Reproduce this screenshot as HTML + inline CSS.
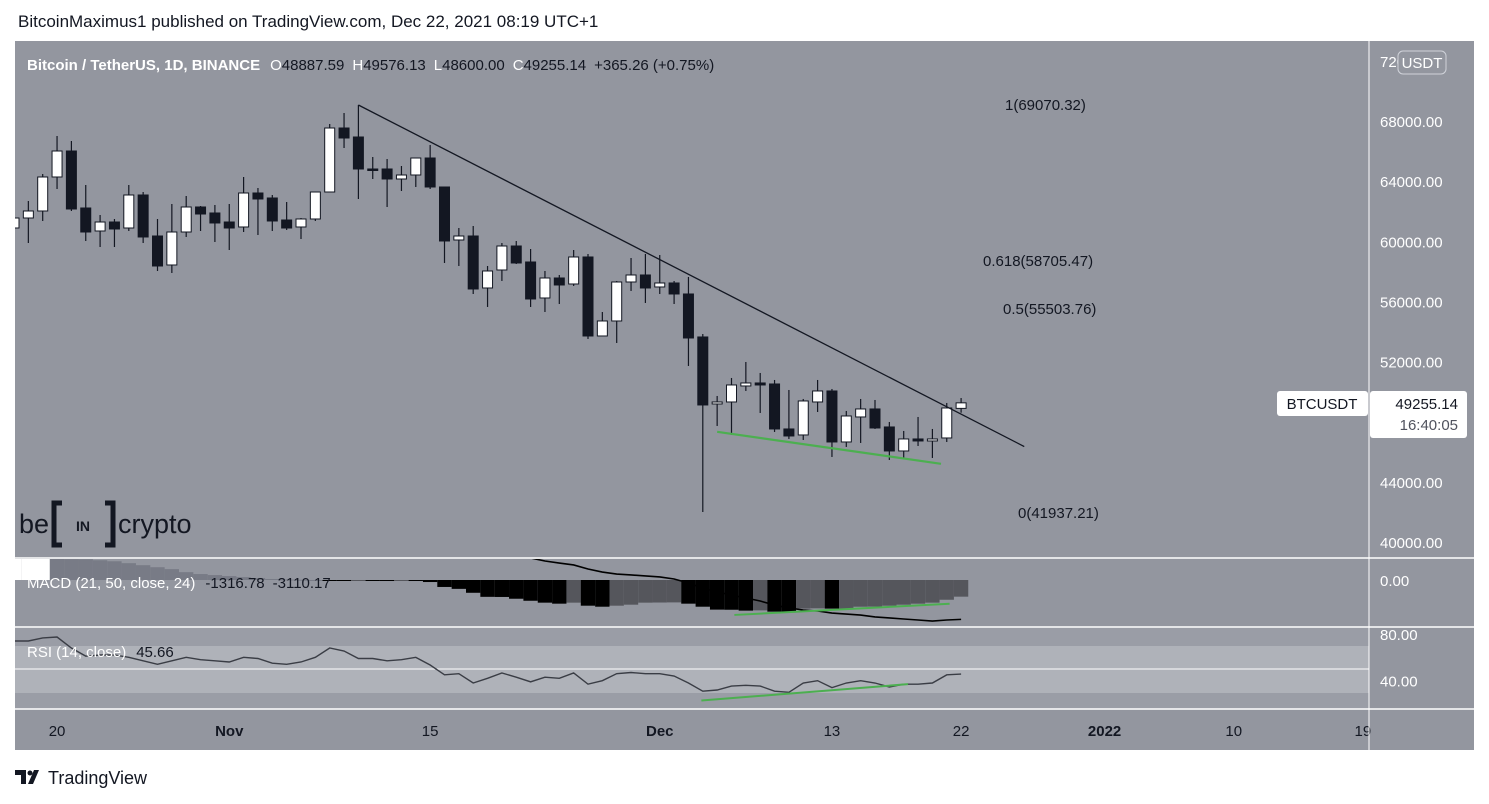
<!DOCTYPE html>
<html><head><meta charset="utf-8"><style>
html,body{margin:0;padding:0;background:#fff;width:1489px;height:804px;overflow:hidden}
svg{display:block;font-family:"Liberation Sans",sans-serif}
</style></head><body>
<svg id="chart" width="1489" height="804" xmlns="http://www.w3.org/2000/svg">
<defs>
<clipPath id="cMain"><rect x="15" y="41" width="1354" height="517"/></clipPath>
<clipPath id="cMacd"><rect x="15" y="559" width="1354" height="68"/></clipPath>
<clipPath id="cRsi"><rect x="15" y="628" width="1354" height="81"/></clipPath>
</defs>
<text x="18" y="27" font-size="17" fill="#131722">BitcoinMaximus1 published on TradingView.com, Dec 22, 2021 08:19 UTC+1</text>
<rect x="15" y="41" width="1459" height="709" fill="#93969f"/>
<rect x="15" y="628" width="1354" height="81" fill="#9a9da6"/>
<rect x="15" y="646" width="1354" height="47" fill="#afb2b9"/>
<line x1="15" y1="669" x2="1369" y2="669" stroke="#fff" stroke-width="1"/>
<g id="main" clip-path="url(#cMain)"></g>
<g id="macd" clip-path="url(#cMacd)"></g>
<g id="rsi" clip-path="url(#cRsi)"></g>
<g id="axes"></g>
<line x1="15" y1="558" x2="1474" y2="558" stroke="#fff" stroke-width="1.5"/>
<line x1="15" y1="627" x2="1474" y2="627" stroke="#fff" stroke-width="1.5"/>
<line x1="15" y1="709" x2="1474" y2="709" stroke="#fff" stroke-width="1.5"/>
<line x1="1369" y1="41" x2="1369" y2="750" stroke="#fff" stroke-width="1"/>
<text x="27" y="70" font-size="15"><tspan fill="#fff" font-weight="bold">Bitcoin / TetherUS, 1D, BINANCE</tspan><tspan fill="#fff" dx="10">O</tspan><tspan fill="#131722">48887.59</tspan><tspan fill="#fff" dx="8">H</tspan><tspan fill="#131722">49576.13</tspan><tspan fill="#fff" dx="8">L</tspan><tspan fill="#131722">48600.00</tspan><tspan fill="#fff" dx="8">C</tspan><tspan fill="#131722">49255.14</tspan><tspan fill="#131722" dx="8">+365.26 (+0.75%)</tspan></text>
<text x="27" y="588" font-size="15"><tspan fill="#fff">MACD (21, 50, close, 24)</tspan><tspan fill="#131722" dx="10">-1316.78</tspan><tspan fill="#131722" dx="8">-3110.17</tspan></text>
<text x="27" y="657" font-size="15"><tspan fill="#fff">RSI (14, close)</tspan><tspan fill="#131722" dx="10">45.66</tspan></text>
<g>
<text x="19" y="533" font-size="27" fill="#131722">be</text>
<path d="M62 503 h-8 v42 h8 M105 503 h8 v42 h-8" stroke="#131722" stroke-width="5" fill="none"/>
<text x="83" y="531" font-size="14" font-weight="bold" fill="#131722" text-anchor="middle">IN</text>
<text x="118" y="533" font-size="27" fill="#131722">crypto</text>
</g>
<rect x="1398" y="51" width="48" height="23" rx="5" fill="#93969f" stroke="#d0d3da"/>
<text x="1422" y="68" font-size="15" fill="#fff" text-anchor="middle">USDT</text>
<rect x="1277" y="391" width="91" height="25" rx="3" fill="#fff"/>
<text x="1322" y="409" font-size="15" fill="#131722" text-anchor="middle">BTCUSDT</text>
<rect x="1370" y="391" width="97" height="47" rx="3" fill="#fff"/>
<text x="1458" y="409" font-size="15" fill="#131722" text-anchor="end">49255.14</text>
<text x="1458" y="430" font-size="15" fill="#50535e" text-anchor="end">16:40:05</text>
<g>
<path d="M15 770 h11 v14 h-5 v-9 h-6z M28 784 l6 -14 h5 l-6 14z" fill="#131722"/>
<circle cx="30" cy="773" r="2.5" fill="#131722"/>
<text x="48" y="784" font-size="18" fill="#131722">TradingView</text>
</g>
</svg>
<script>
const opens=[60884,61549,62015,64276,66005,62214,60685,61283,60884,63079,60352,58424,60618,62281,61882,61283,60951,63212,62879,61416,60951,61483,63278,67534,66936,64808,64808,64143,64409,65539,63611,60086,60352,56894,58091,59687,58623,56229,57559,57160,58956,53702,54700,57293,57759,56961,57227,56495,53636,49180,49313,50377,50577,50510,47518,47119,49313,50045,46653,48316,48848,47651,46055,46853,46720,46919,48887.59];
const highs=[62081,62680,64475,67002,66670,63744,61749,61483,63744,63278,61483,62480,63012,62347,62414,62480,64276,63544,63079,62613,61549,63300,67800,68532,69064,65606,65473,65007,65539,66404,63611,60884,61017,58357,59887,60020,59488,58025,57759,59421,59155,55298,57360,58889,59155,59089,57360,57626,53835,49712,50909,51973,51242,50776,50111,49513,50776,50178,48715,49513,49446,47983,47385,48316,47518,49247,49576.13];
const lows=[60086,59887,61350,63478,62015,60020,59621,59621,60685,59887,58025,57892,60286,60685,59953,59421,60618,60419,60685,60751,60153,61350,63278,66204,62813,64143,62281,63345,63611,63478,58557,58357,56495,55631,57360,58490,55631,55298,55830,57027,53503,53702,53237,56695,55897,56495,55830,51707,41998,47717,47119,50045,48582,47318,46853,46786,48648,45656,46321,46587,47518,45456,45523,46387,45589,46653,48600];
const closes=[61549,62015,64276,66005,62148,60618,61283,60818,63079,60286,58357,60618,62281,61815,61217,60884,63212,62813,61350,60884,61483,63278,67534,66869,64808,64741,64143,64409,65539,63611,60020,60352,56828,58025,59687,58557,56163,57559,57094,58956,53702,54700,57293,57759,56894,57227,56495,53569,49114,49313,50444,50577,50444,47518,47052,49380,50045,46653,48382,48848,47584,46055,46853,46720,46853,48914,49255.14];
const macdHist=[1700,1800,1900,1850,1650,1640,1560,1480,1330,1170,1010,860,620,470,390,310,230,160,80,40,20,0,-30,-40,-40,-60,-80,-60,-80,-160,-550,-700,-1010,-1330,-1340,-1480,-1640,-1790,-1870,-1790,-2030,-2110,-2030,-1950,-1790,-1780,-1770,-1870,-2110,-2340,-2350,-2420,-2400,-2500,-2570,-2260,-2240,-2260,-2250,-2110,-2100,-2030,-1950,-1870,-1790,-1560,-1316.78];
const macdLine=[5800,5900,6100,6300,6300,6200,6000,5800,5700,5500,5200,5000,4900,4700,4500,4400,4400,4300,4200,4000,3900,3900,4000,4200,4300,4300,4200,4100,4000,3900,3600,3300,2900,2600,2300,2000,1740,1500,1340,1190,870,630,470,400,320,240,80,-240,-630,-950,-1190,-1420,-1660,-1980,-2210,-2370,-2450,-2610,-2690,-2770,-2920,-3000,-3080,-3160,-3240,-3160,-3110.17];
const rsiVals=[74,74,76.6,77.4,68,61,62,62,60,57,54,57,60,58,57,56,60,59,55,54,56,60,68,65.4,59,59,57,58,60,53.4,45,46,38,42,46.6,43,39,43,42,46.6,37,40,46,47,46,46,44,38,31,32,35.4,36,35.4,31,30,38,40,34,38,40,38,34.6,37,37,38,45,45.66];
const priceTicks=[72000,68000,64000,60000,56000,52000,44000,40000];
const timeTickIdx=[3,15,29,45,57,66,76,85,94];
const timeTickLabels=["20","Nov","15","Dec","13","22","2022","10","19"];
const timeTickBold=[false,true,false,true,false,false,true,false,false];
const fibLevels=[69070.32,58705.47,55503.76,41937.21];
const fibNames=["1","0.618","0.5","0"];
const fibX=[1005,983,1003,1018];
const trendIdx=[24,70.4], trendPrice=[69064,46350];
const greenIdx=[49,64.6], greenPrice=[47330,45200];
const macdGreenIdx=[50.2,65.2], macdGreenVal=[-2760,-1880];
const rsiGreenIdx=[47.9,62.3], rsiGreenVal=[23,37];

const NS="http://www.w3.org/2000/svg";
const xAt=i=>14+14.35*i;
const yP=p=>121+(68000-p)*0.015036;
const yM=v=>580-v/79;
const yR=v=>669-(v-50)*1.167;
function mk(tag,attrs,parent){const e=document.createElementNS(NS,tag);for(const k in attrs)e.setAttribute(k,attrs[k]);parent.appendChild(e);return e;}
const main=document.getElementById('main'),macd=document.getElementById('macd'),rsi=document.getElementById('rsi'),axes=document.getElementById('axes');
const DARK="#131722";
// candles
for(let i=0;i<opens.length;i++){
  const x=xAt(i),up=closes[i]>=opens[i];
  const w=mk('line',{x1:x,x2:x,y1:yP(highs[i]),y2:yP(lows[i]),stroke:DARK,'stroke-width':1.2},main);
  
  
  const top=yP(Math.max(opens[i],closes[i])),bot=yP(Math.min(opens[i],closes[i]));
  const b=mk('rect',{x:x-5,y:top,width:10,height:Math.max(1.5,bot-top),fill:up?'#fff':DARK,stroke:DARK,'stroke-width':1},main);
  
  
}
// trendline
let t=mk('line',{x1:xAt(trendIdx[0]),y1:yP(trendPrice[0]),x2:xAt(trendIdx[1]),y2:yP(trendPrice[1]),stroke:DARK,'stroke-width':1.3},main);


t=mk('line',{x1:xAt(greenIdx[0]),y1:yP(greenPrice[0]),x2:xAt(greenIdx[1]),y2:yP(greenPrice[1]),stroke:'#4caf50','stroke-width':2.2},main);


// fib labels
for(let k=0;k<fibLevels.length;k++){
  const e=mk('text',{x:fibX[k],y:yP(fibLevels[k])+5,'font-size':15,fill:DARK},main);
  e.textContent=fibNames[k]+"("+fibLevels[k].toFixed(2)+")";
  
  
}
// macd histogram
for(let i=0;i<macdHist.length;i++){
  const v=macdHist[i],prev=i>0?macdHist[i-1]:v-1;
  let col;
  if(v>=0) col=v>=prev?'#ffffff':'#787b86'; else col=v<prev?'#000000':'#55565c';
  const y0=yM(0),y1=yM(v);
  const r=mk('rect',{x:xAt(i)-7.2,y:Math.min(y0,y1),width:14.35,height:Math.max(1,Math.abs(y1-y0)),fill:col},macd);
  
  
}
let pts=macdLine.map((v,i)=>xAt(i)+","+yM(v)).join(" ");
let pl=mk('polyline',{points:pts,fill:'none',stroke:'#000','stroke-width':1.6},macd);


t=mk('line',{x1:xAt(macdGreenIdx[0]),y1:yM(macdGreenVal[0]),x2:xAt(macdGreenIdx[1]),y2:yM(macdGreenVal[1]),stroke:'#4caf50','stroke-width':2},macd);


// rsi
pts=rsiVals.map((v,i)=>xAt(i)+","+yR(v)).join(" ");
pl=mk('polyline',{points:pts,fill:'none',stroke:'#3a3d45','stroke-width':1.4},rsi);


t=mk('line',{x1:xAt(rsiGreenIdx[0]),y1:yR(rsiGreenVal[0]),x2:xAt(rsiGreenIdx[1]),y2:yR(rsiGreenVal[1]),stroke:'#4caf50','stroke-width':2},rsi);


// price axis
for(const p of priceTicks){
  const e=mk('text',{x:1380,y:yP(p)+6,'font-size':15,fill:'#fff'},axes);
  e.textContent=p.toFixed(2);
  
  
}
const extra=[["0.00",yM(0)],["80.00",yR(80)],["40.00",yR(40)]];
for(const [s,y] of extra){
  const e=mk('text',{x:1380,y:y+6,'font-size':15,fill:'#fff'},axes);
  e.textContent=s;
  
  
}
// time axis
for(let k=0;k<timeTickIdx.length;k++){
  const e=mk('text',{x:xAt(timeTickIdx[k]),y:736,'font-size':15,fill:DARK,'text-anchor':'middle','font-weight':timeTickBold[k]?'bold':'normal'},axes);
  e.textContent=timeTickLabels[k];
  
  
}
</script>
</body></html>
